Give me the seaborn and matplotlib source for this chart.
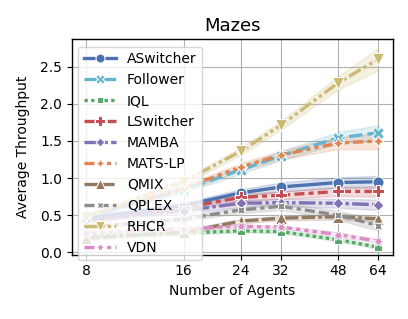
import numpy as np
import pandas as pd
import matplotlib
matplotlib.use("Agg")
import matplotlib.pyplot as plt
import seaborn as sns

agents = [8, 16, 24, 32, 48, 64]
methods = ["ASwitcher", "Follower", "IQL", "LSwitcher", "MAMBA",
           "MATS-LP", "QMIX", "QPLEX", "RHCR", "VDN"]

aswitcher = [0.46, 0.63, 0.80, 0.88, 0.94, 0.95]
follower = [0.48, 0.84, 1.11, 1.30, 1.54, 1.61]
iql = [0.22, 0.26, 0.29, 0.28, 0.17, 0.07]
lswitcher = [0.42, 0.60, 0.74, 0.77, 0.82, 0.82]
mamba = [0.44, 0.56, 0.66, 0.67, 0.66, 0.64]
matslp = [0.49, 0.86, 1.15, 1.31, 1.47, 1.50]
qmix = [0.19, 0.27, 0.42, 0.46, 0.48, 0.45]
qplex = [0.34, 0.45, 0.57, 0.62, 0.50, 0.36]
rhcr = [0.48, 0.95, 1.36, 1.71, 2.28, 2.60]
vdn = [0.26, 0.32, 0.35, 0.34, 0.24, 0.15]

# half-width of the shaded band
aswitcher_band = [0.03, 0.04, 0.05, 0.06, 0.07, 0.08]
follower_band = [0.03, 0.04, 0.05, 0.06, 0.08, 0.10]
iql_band = [0.02, 0.02, 0.02, 0.02, 0.02, 0.02]
lswitcher_band = [0.03, 0.04, 0.05, 0.05, 0.06, 0.07]
mamba_band = [0.03, 0.04, 0.05, 0.05, 0.06, 0.07]
matslp_band = [0.03, 0.04, 0.05, 0.06, 0.08, 0.11]
qmix_band = [0.02, 0.03, 0.03, 0.03, 0.04, 0.04]
qplex_band = [0.02, 0.03, 0.04, 0.05, 0.06, 0.07]
rhcr_band = [0.03, 0.04, 0.05, 0.06, 0.09, 0.15]
vdn_band = [0.02, 0.02, 0.02, 0.02, 0.03, 0.03]

means = [aswitcher, follower, iql, lswitcher, mamba, matslp, qmix, qplex, rhcr, vdn]
bands = [aswitcher_band, follower_band, iql_band, lswitcher_band, mamba_band,
         matslp_band, qmix_band, qplex_band, rhcr_band, vdn_band]

colors = ["#4C72B0", "#64B5CD", "#55A868", "#C44E52", "#8172B3",
          "#DD8452", "#937860", "#8C8C8C", "#CCB974", "#DA8BC3"]

rows = []
for m, mv, bv in zip(methods, means, bands):
    for x, v, b in zip(agents, mv, bv):
        rows.append({"method": m, "agents": x, "throughput": v - b})
        rows.append({"method": m, "agents": x, "throughput": v + b})
df = pd.DataFrame(rows)

plt.rcParams["font.family"] = ["DejaVu Sans"]
fig, ax = plt.subplots(figsize=(4.08, 3.19), dpi=100)
fig.subplots_adjust(left=0.176, right=0.963, top=0.878, bottom=0.202)

sns.lineplot(data=df, x="agents", y="throughput", hue="method", style="method",
             markers=True, dashes=True, palette=dict(zip(methods, colors)),
             hue_order=methods, style_order=methods,
             linewidth=2.4, markersize=8, errorbar=("pi", 100), ax=ax)

ax.set_xscale("log", base=2)
ax.set_xticks(agents)
ax.set_xticklabels([str(a) for a in agents])
ax.minorticks_off()
ax.set_yticks([0.0, 0.5, 1.0, 1.5, 2.0, 2.5])
ax.set_ylim(-0.03, 2.873)
ax.grid(True, color="#b0b0b0", linewidth=0.8)
ax.set_axisbelow(True)
for s in ax.spines.values():
    s.set_color("black")
    s.set_linewidth(1.0)
ax.tick_params(labelsize=10, length=3.5, width=0.8)

ax.set_title("Mazes", fontsize=13)
ax.set_xlabel("Number of Agents", fontsize=10)
ax.set_ylabel("Average Throughput", fontsize=10, labelpad=7)

leg = ax.get_legend()
handles = leg.legend_handles
labels = [t.get_text() for t in leg.get_texts()]
for h in handles:
    h.set_markersize(6.5)
    h.set_linewidth(2.4)
ax.legend(handles, labels, loc="upper left", bbox_to_anchor=(0.02, 0.964),
          fontsize=10, handlelength=2.3, labelspacing=0.5, borderaxespad=0.0,
          framealpha=0.8)

fig.savefig("out.png", dpi=100)
